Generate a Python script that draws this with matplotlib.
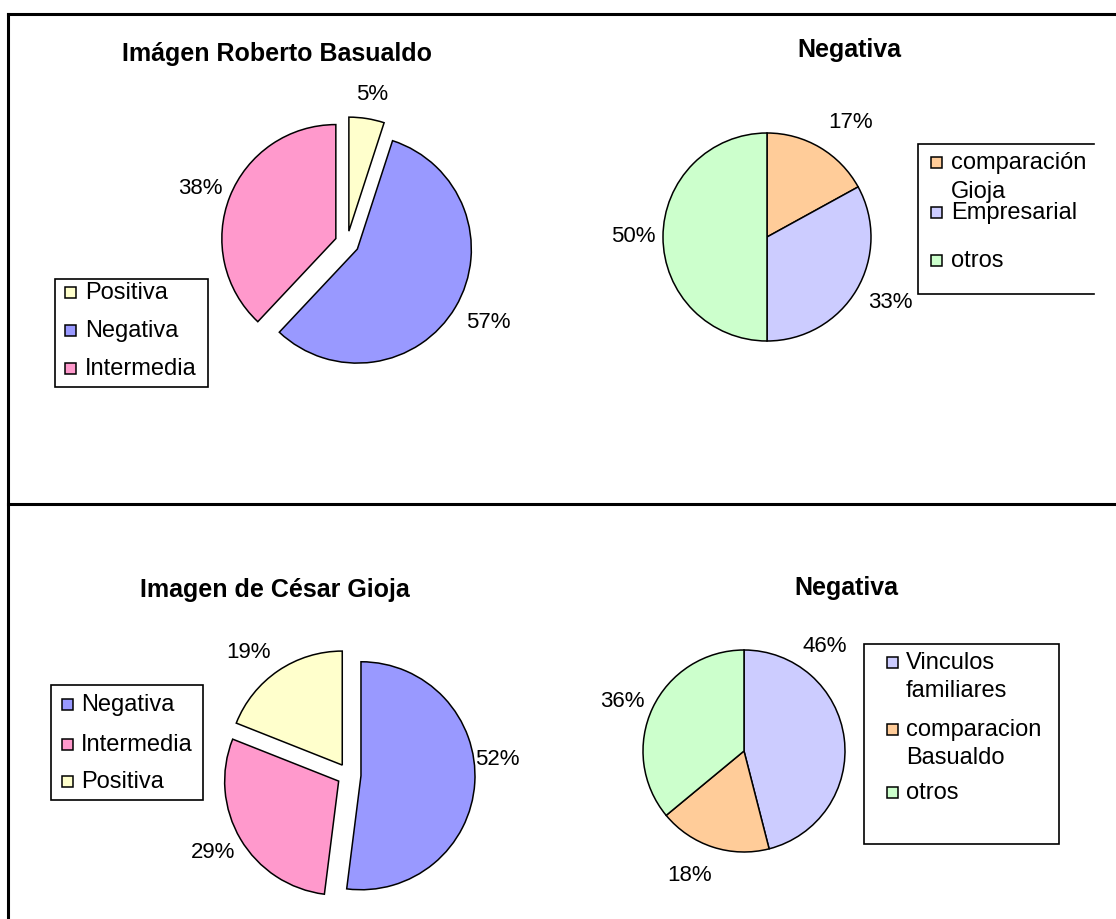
import matplotlib.pyplot as plt
from matplotlib.patches import Rectangle

W, H = 1116, 920
FONT = ['Liberation Sans', 'DejaVu Sans']

# Imágen Roberto Basualdo
rob_labels = ['Positiva', 'Negativa', 'Intermedia']
rob_values = [5, 57, 38]
rob_colors = ['#FFFFCC', '#9999FF', '#FF99CC']

# Negativa (Basualdo)
rob_neg_labels = ['comparación\nGioja', 'Empresarial', 'otros']
rob_neg_values = [17, 33, 50]
rob_neg_colors = ['#FFCC99', '#CCCCFF', '#CCFFCC']

# Imagen de César Gioja
gio_labels = ['Negativa', 'Intermedia', 'Positiva']
gio_values = [52, 29, 19]
gio_colors = ['#9999FF', '#FF99CC', '#FFFFCC']

# Negativa (Gioja)
gio_neg_labels = ['Vinculos\nfamiliares', 'comparacion\nBasualdo', 'otros']
gio_neg_values = [46, 18, 36]
gio_neg_colors = ['#CCCCFF', '#FFCC99', '#CCFFCC']

# layout, in pixels measured from the top-left corner
# (explode in matplotlib is in data units, here pixels)
charts = [
    dict(values=rob_values, colors=rob_colors, labels=rob_labels,
         title='Imágen Roberto Basualdo', title_pos=(277, 54),
         center=(347, 244), radius=114, explode=12,
         pct_pos=[(372, 95), (488, 322), (200, 188)],
         box=(55, 280, 208, 388), box_sides='all',
         marker_x=70, text_x=85, rows=[293, 331, 369], line_gap=28),
    dict(values=rob_neg_values, colors=rob_neg_colors, labels=rob_neg_labels,
         title='Negativa', title_pos=(849, 50),
         center=(767, 238), radius=104, explode=0,
         pct_pos=[(851, 122), (890, 303), (633, 237)],
         box=(918, 145, 1094, 295), box_sides='open',
         marker_x=936, text_x=951, rows=[163, 213, 261], line_gap=29),
    dict(values=gio_values, colors=gio_colors, labels=gio_labels,
         title='Imagen de César Gioja', title_pos=(275, 590),
         center=(349, 776), radius=114, explode=12,
         pct_pos=[(497, 760), (213, 853), (249, 652)],
         box=(51, 686, 203, 801), box_sides='all',
         marker_x=67, text_x=81, rows=[705, 745, 782], line_gap=28),
    dict(values=gio_neg_values, colors=gio_neg_colors, labels=gio_neg_labels,
         title='Negativa', title_pos=(846, 588),
         center=(744, 752), radius=101, explode=0,
         pct_pos=[(825, 646), (690, 876), (622, 702)],
         box=(864, 645, 1059, 845), box_sides='all',
         marker_x=892, text_x=906, rows=[663, 730, 793], line_gap=28),
]

fig = plt.figure(figsize=(W / 100, H / 100), dpi=100)
ax = fig.add_axes([0, 0, 1, 1])


def py(y):
    return H - y


for c in charts:
    cx, cy = c['center']
    wedges, texts, autotexts = ax.pie(
        c['values'], colors=c['colors'], startangle=90, counterclock=False,
        center=(cx, py(cy)), radius=c['radius'],
        explode=[c['explode']] * len(c['values']),
        autopct='%1.0f%%', pctdistance=1.2,
        wedgeprops=dict(edgecolor='black', linewidth=1.1),
        textprops=dict(fontsize=16, family=FONT))
    for t, (x, y) in zip(autotexts, c['pct_pos']):
        t.set_position((x, py(y)))
        t.set_ha('center')
        t.set_va('center')

    # title
    tx, ty = c['title_pos']
    ax.text(tx, py(ty), c['title'], fontsize=18, fontweight='bold',
            family=FONT, ha='center', va='center')

    # legend box
    x0, y0, x1, y1 = c['box']
    if c['box_sides'] == 'all':
        ax.add_patch(Rectangle((x0, py(y1)), x1 - x0, y1 - y0,
                               facecolor='white', edgecolor='black', linewidth=1.2))
    else:
        ax.plot([x1, x0, x0, x1], [py(y0), py(y0), py(y1), py(y1)],
                color='black', linewidth=1.2, solid_joinstyle='miter')

    # legend entries
    for label, color, ry in zip(c['labels'], c['colors'], c['rows']):
        s = 11
        ax.add_patch(Rectangle((c['marker_x'] - s / 2, py(ry) - s / 2), s, s,
                               facecolor=color, edgecolor='black', linewidth=1.1))
        for k, line in enumerate(label.split('\n')):
            ax.text(c['text_x'], py(ry + k * c['line_gap']), line, fontsize=17,
                    family=FONT, ha='left', va='center')

# frame lines
ax.plot([8, W], [py(15), py(15)], color='black', linewidth=2.2)
ax.plot([8, 8], [py(15), 0], color='black', linewidth=2.2)
ax.plot([8, W], [py(505), py(505)], color='black', linewidth=2.2)

ax.set_xlim(0, W)
ax.set_ylim(0, H)
ax.set_aspect('auto')
ax.axis('off')

plt.savefig('out.png', dpi=100, facecolor='white')
